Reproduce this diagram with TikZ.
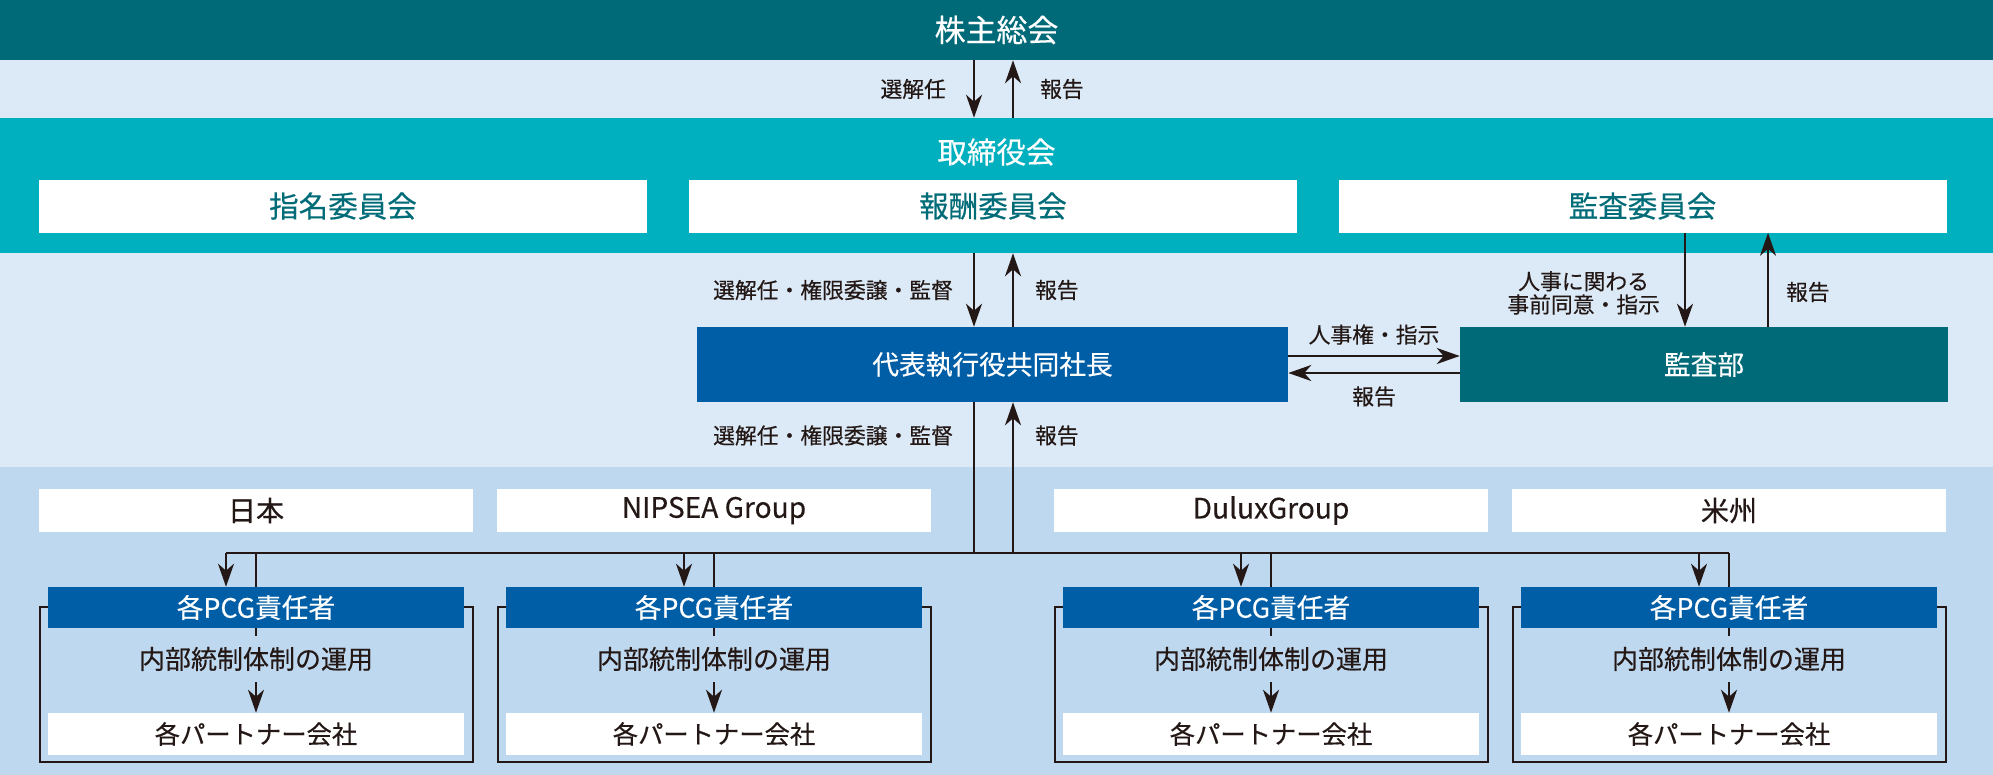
\documentclass[tikz,border=0pt]{standalone}
\usepackage{fontspec}
\setmainfont{Noto Sans CJK JP}[FakeBold=0.4]
\usepackage{tikz}
\usetikzlibrary{positioning, arrows.meta}

\newdimen\pxu \pxu=0.25mm
\definecolor{agmteal}{RGB}{0,106,120}
\definecolor{boardteal}{RGB}{0,176,191}
\definecolor{lightband}{RGB}{220,234,247}
\definecolor{lowblue}{RGB}{190,216,240}
\definecolor{execblue}{RGB}{0,94,166}
\definecolor{cmtetext}{RGB}{0,108,120}
\definecolor{ink}{RGB}{35,24,21}

\begin{document}
\begin{tikzpicture}[x=\pxu, y=-\pxu,
    every node/.style={inner sep=0pt},
    band/.style={minimum width=1993\pxu},
    cmte/.style={fill=white, minimum width=608\pxu, minimum height=53\pxu, text=cmtetext, font=\fontsize{21pt}{24pt}\selectfont},
    exec/.style={minimum height=75\pxu, text=white, font=\fontsize{19pt}{22pt}\selectfont},
    region/.style={fill=white, minimum width=434\pxu, minimum height=43\pxu, text=ink, font=\fontsize{20pt}{23pt}\selectfont},
    grpframe/.style={draw=ink, line width=2\pxu, minimum width=433\pxu, minimum height=155\pxu},
    pcghead/.style={fill=execblue, minimum width=416\pxu, minimum height=41\pxu, text=white, font=\fontsize{19pt}{22pt}\selectfont},
    partner/.style={fill=white, minimum width=416\pxu, minimum height=42\pxu, text=ink, font=\fontsize{18pt}{21pt}\selectfont},
    optext/.style={fill=lowblue, minimum height=46\pxu, text=ink, font=\fontsize{18.5pt}{21pt}\selectfont},
    lbl/.style={text=ink, font=\fontsize{15.5pt}{16.5pt}\selectfont},
    wire/.style={draw=ink, line width=2.2\pxu},
    arr/.style={wire, -{Stealth[length=5.75mm, width=4mm, inset=1.75mm]}},
    bigarr/.style={draw=ink, line width=2.6\pxu, -{Stealth[length=5.75mm, width=4mm, inset=1.75mm]}},
  ]
  \useasboundingbox (0,0) rectangle (1993,775);

  % background bands
  \fill[lightband] (0,60) rectangle (1993,118);
  \fill[lightband] (0,253) rectangle (1993,467);
  \fill[lowblue] (0,467) rectangle (1993,775);

  % shareholders and board
  \node[band, fill=agmteal, minimum height=60\pxu, text=white, font=\fontsize{22pt}{25pt}\selectfont] (agm) at (996.5,30) {株主総会};
  \node[band, fill=boardteal, minimum height=135\pxu] (board) at (996.5,185.5) {};
  \node[text=white, font=\fontsize{21pt}{24pt}\selectfont] (boardname) at (996.5,152) {取締役会};
  \node[cmte] (nom) at (343,206) {指名委員会};
  \node[cmte] (comp) at (993,206) {報酬委員会};
  \node[cmte] (aud) at (1642.5,206) {監査委員会};

  % executives
  \node[exec, fill=execblue, minimum width=591\pxu] (ceo) at (992.5,364.5) {代表執行役共同社長};
  \node[exec, fill=agmteal, minimum width=488\pxu] (iad) at (1704,364.5) {監査部};

  \coordinate (dn) at (974,0);
  \coordinate (up) at (1013,0);
  \coordinate (adn) at (1685,0);
  \coordinate (aup) at (1768,0);

  \draw[arr] (agm.south -| dn) -- node[lbl, left=6.75mm] {選解任} (board.north -| dn);
  \draw[arr] (board.north -| up) -- node[lbl, right=6.5mm] {報告} (agm.south -| up);
  \draw[arr] (board.south -| dn) -- node[lbl, left=5mm] {選解任・権限委譲・監督} (ceo.north -| dn);
  \draw[arr] (ceo.north -| up) -- node[lbl, right=5.25mm] {報告} (board.south -| up);

  \draw[arr] (aud.south -| adn) -- node[lbl, pos=0.64, left=6mm, align=center] {人事に関わる\\事前同意・指示} (iad.north -| adn);
  \draw[arr] (iad.north -| aup) -- node[lbl, pos=0.37, right=4.25mm] {報告} (aud.south -| aup);

  \draw[bigarr] ([yshift=8.5\pxu]ceo.east) -- node[lbl, above=2.5mm] {人事権・指示} ([yshift=8.5\pxu]iad.west);
  \draw[bigarr] ([yshift=-8.5\pxu]iad.west) -- node[lbl, below=3mm] {報告} ([yshift=-8.5\pxu]ceo.east);

  % regions
  \foreach \r/\x/\rname in {jp/256/日本, ns/714/NIPSEA Group, dl/1271/DuluxGroup, am/1729/米州} {
    \node[region] (reg\r) at (\x,510.5) {\rname};
    \node[grpframe] (frm\r) at (\x,684.5) {};
    \node[pcghead] (head\r) at (\x,607.5) {各PCG責任者};
    \node[partner] (part\r) at (\x,734) {各パートナー会社};
    \coordinate (t\r) at (\x,553);
    \draw[arr] (head\r.south) -- (part\r.north);
    \node[optext] (op\r) at (\x,659) {内部統制体制の運用};
    \draw[arr] ([xshift=-30\pxu]t\r) -- ([xshift=-30\pxu]head\r.north);
    \draw[wire] (t\r) -- (head\r.north);
  }

  \draw[wire] ([xshift=-30\pxu]tjp) -- (tam);
  \draw[wire] (ceo.south -| dn) -- node[lbl, pos=0.22, left=5mm] {選解任・権限委譲・監督} (dn |- tjp);
  \draw[arr] (up |- tjp) -- node[lbl, pos=0.78, right=5.25mm] {報告} (ceo.south -| up);
\end{tikzpicture}
\end{document}
